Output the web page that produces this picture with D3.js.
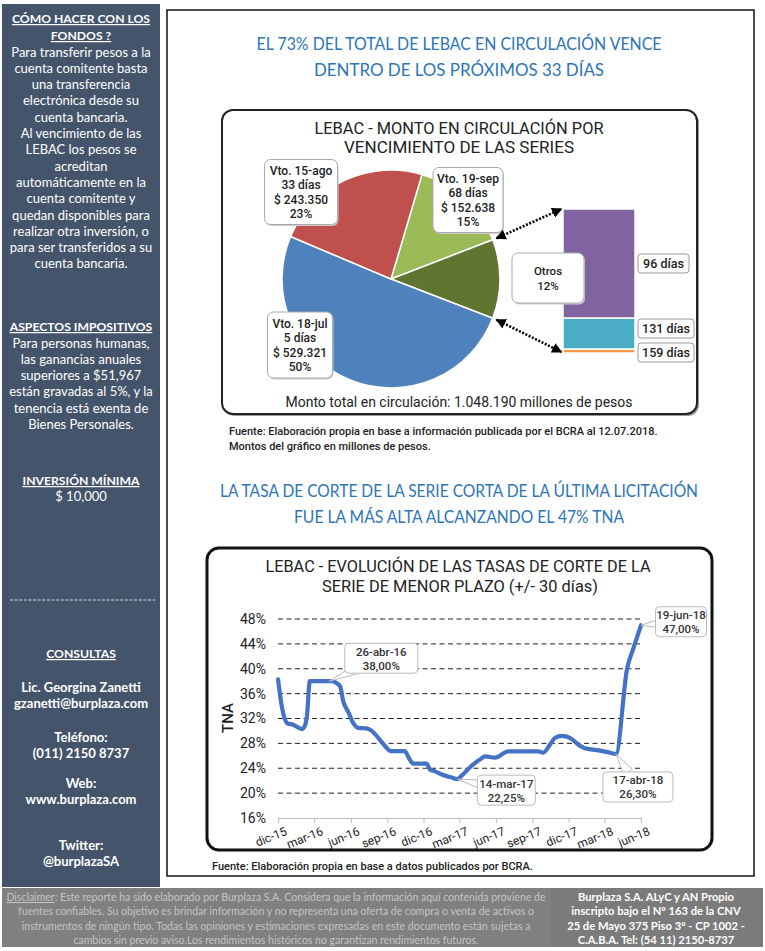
<!DOCTYPE html>
<html>
<head>
<meta charset="utf-8">
<script src="https://cdnjs.cloudflare.com/ajax/libs/d3/7.8.5/d3.min.js"></script>
<style>
  body { margin: 0; background: #fff; }
  svg { display: block; }
  .side { font-family: Lato, "Open Sans", sans-serif; fill: #fff; font-size: 13px; }
  .chart { font-family: Roboto, sans-serif; fill: #222; }
</style>
</head>
<body>
<div id="page"></div>
<script>

// pie: LEBAC en circulación por vencimiento (millones de pesos)
var pieNames = ["Vto. 19-sep", "Otros", "Vto. 18-jul", "Vto. 15-ago"];
var pieDays = ["68 días", "", "5 días", "33 días"];
var pieAmounts = ["$ 152.638", "", "$ 529.321", "$ 243.350"];
var piePct = ["15%", "12%", "50%", "23%"];
var pieValues = [152.638, 122.881, 529.321, 243.350];
var pieColors = ["#9bbb59", "#5f7530", "#4f81bd", "#c0504d"];

// desglose de "Otros"
var otrosDays = ["159 días", "131 días", "96 días"];
var otrosValues = [3.4, 26.5, 93.0];
var otrosColors = ["#f79646", "#4bacc6", "#8064a2"];

// tasas de corte serie corta
var rateDates = ["2015-12-19", "2015-12-29", "2016-01-12", "2016-01-26", "2016-02-09", "2016-02-18",
  "2016-02-25", "2016-03-01", "2016-03-08", "2016-03-22", "2016-04-05", "2016-04-26", "2016-05-03",
  "2016-05-14", "2016-05-23", "2016-05-31", "2016-06-13", "2016-06-25", "2016-07-08", "2016-07-29",
  "2016-08-11", "2016-08-27", "2016-09-17", "2016-09-26", "2016-11-02", "2016-11-11", "2016-11-23",
  "2016-12-27", "2017-01-04", "2017-01-17", "2017-02-03", "2017-02-28", "2017-03-14", "2017-03-25",
  "2017-04-19", "2017-05-10", "2017-05-23", "2017-06-17", "2017-07-20", "2017-10-04", "2017-10-16",
  "2017-11-02", "2017-11-15", "2017-12-02", "2017-12-22", "2018-01-17", "2018-01-29", "2018-03-12",
  "2018-04-02", "2018-04-17", "2018-05-15", "2018-06-01", "2018-06-19"];
var rateValues = [38.3, 33.8, 31.2, 31.0, 30.5, 30.3,
  30.9, 32.5, 38.0, 38.0, 38.0, 38.0, 38.0,
  37.7, 37.2, 34.8, 33.0, 31.3, 30.5, 30.4,
  30.0, 28.9, 27.3, 26.75, 26.75, 25.8, 24.75,
  24.75, 23.8, 23.5, 23.0, 22.5, 22.25, 22.8,
  24.4, 25.4, 25.9, 25.7, 26.7, 26.7, 26.5,
  27.8, 28.9, 29.2, 28.9, 27.6, 27.2, 26.8,
  26.5, 26.3, 40.0, 43.5, 47.0];
var yTicks = [16, 20, 24, 28, 32, 36, 40, 44, 48];
var xTickLabels = ["dic-15", "mar-16", "jun-16", "sep-16", "dic-16", "mar-17", "jun-17", "sep-17", "dic-17", "mar-18", "jun-18"];

var calloutDates = ["2016-04-26", "2017-03-14", "2018-04-17", "2018-06-19"];
var calloutTexts = [["26-abr-16", "38,00%"], ["14-mar-17", "22,25%"], ["17-abr-18", "26,30%"], ["19-jun-18", "47,00%"]];

// textos
var sideBlock1 = ["Para transferir pesos a la", "cuenta comitente basta", "una transferencia", "electrónica desde su",
  "cuenta bancaria.", "Al vencimiento de las", "LEBAC los pesos se", "acreditan", "automáticamente en la",
  "cuenta comitente y", "quedan disponibles para", "realizar otra inversión, o", "para ser transferidos a su", "cuenta bancaria."];
var sideBlock2 = ["Para personas humanas,", "las ganancias anuales", "superiores a $51,967", "están gravadas al 5%, y la",
  "tenencia está exenta de", "Bienes Personales."];
var disclaimer = ["Este reporte ha sido elaborado por Burplaza S.A. Considera que la información aquí contenida proviene de",
  "fuentes confiables. Su objetivo es brindar información y no representa una oferta de compra o venta de activos o",
  "instrumentos de ningún tipo. Todas las opiniones y estimaciones expresadas en este documento están sujetas a",
  "cambios sin previo aviso.Los rendimientos históricos no garantizan rendimientos futuros."];
var company = ["Burplaza S.A. ALyC y AN Propio", "inscripto bajo el Nº 163 de la CNV", "25 de Mayo 375 Piso 3º - CP 1002 -", "C.A.B.A. Tel: (54 11) 2150-8737"];

var W = 765, H = 951;
var svg = d3.select("#page").append("svg").attr("width", W).attr("height", H);

var defs = svg.append("defs");
defs.append("marker").attr("id", "arr").attr("viewBox", "0 0 10 10")
  .attr("refX", 9).attr("refY", 5).attr("markerWidth", 4).attr("markerHeight", 4)
  .attr("orient", "auto-start-reverse")
  .append("path").attr("d", "M0,0L10,5L0,10Z").attr("fill", "#000");

function lines(g, arr, x, y0, dy, anchor) {
  var t = g.append("text").attr("text-anchor", anchor || "middle");
  arr.forEach(function(s, i) {
    t.append("tspan").attr("x", x).attr("y", y0 + i * dy).text(s);
  });
  return t;
}

// ---------- sidebar ----------
var side = svg.append("g");
side.append("rect").attr("x", 2).attr("y", 4).attr("width", 158).attr("height", 883).attr("fill", "#44546a");
var sx = 81;
function heading(txt, y) {
  var t = side.append("text").attr("class", "side").attr("x", sx).attr("y", y)
    .attr("text-anchor", "middle").attr("font-weight", "bold").style("font-size", "12.2px")
    .attr("text-decoration", "underline").text(txt);
  return t;
}
heading("CÓMO HACER CON LOS", 23);
heading("FONDOS ?", 40);
lines(side, sideBlock1, sx, 56.5, 16.3).attr("class", "side");
heading("ASPECTOS IMPOSITIVOS", 331);
lines(side, sideBlock2, sx, 347.5, 16.3).attr("class", "side");
heading("INVERSIÓN MÍNIMA", 485);
side.append("text").attr("class", "side").attr("x", sx).attr("y", 501).attr("text-anchor", "middle").text("$ 10,000");
side.append("line").attr("x1", 10).attr("x2", 155).attr("y1", 600).attr("y2", 600)
  .attr("stroke", "#fff").attr("stroke-width", 0.8).attr("stroke-dasharray", "3,1.6");
heading("CONSULTAS", 658);
lines(side, ["Lic. Georgina Zanetti", "gzanetti@burplaza.com"], sx, 692, 16.3).attr("class", "side").attr("font-weight", "bold");
lines(side, ["Teléfono:", "(011) 2150 8737"], sx, 742, 16.3).attr("class", "side").attr("font-weight", "bold");
lines(side, ["Web:", "www.burplaza.com"], sx, 788, 16.3).attr("class", "side").attr("font-weight", "bold");
lines(side, ["Twitter:", "@burplazaSA"], sx, 850, 16.3).attr("class", "side").attr("font-weight", "bold");

// ---------- main panel ----------
svg.append("rect").attr("x", 167).attr("y", 10).attr("width", 587).attr("height", 866)
  .attr("fill", "#fff").attr("stroke", "#000").attr("stroke-width", 1.4);

function blueHead(arr, y0, widths) {
  arr.forEach(function(s, i) {
    svg.append("text").attr("x", 459).attr("y", y0 + i * 25.5).attr("text-anchor", "middle")
      .attr("font-family", "Lato, sans-serif").attr("font-size", 16.5).attr("fill", "#2e75b6")
      .attr("textLength", widths[i]).attr("lengthAdjust", "spacingAndGlyphs").text(s);
  });
}
blueHead(["EL 73% DEL TOTAL DE LEBAC EN CIRCULACIÓN VENCE", "DENTRO DE LOS PRÓXIMOS 33 DÍAS"], 50, [405, 290]);
blueHead(["LA TASA DE CORTE DE LA SERIE CORTA DE LA ÚLTIMA LICITACIÓN", "FUE LA MÁS ALTA ALCANZANDO EL 47% TNA"], 497, [478, 330]);

// ---------- pie chart ----------
var pg = svg.append("g").attr("class", "chart");
pg.append("rect").attr("x", 224).attr("y", 112).attr("width", 475).attr("height", 304).attr("rx", 11)
  .attr("fill", "#999");
pg.append("rect").attr("x", 222).attr("y", 110).attr("width", 475).attr("height", 304).attr("rx", 11)
  .attr("fill", "#fff").attr("stroke", "#222").attr("stroke-width", 2);
pg.append("text").attr("x", 459).attr("y", 134).attr("text-anchor", "middle").attr("font-size", 16.5)
  .attr("textLength", 289).attr("lengthAdjust", "spacingAndGlyphs").text("LEBAC - MONTO EN CIRCULACIÓN POR");
pg.append("text").attr("x", 459).attr("y", 152.5).attr("text-anchor", "middle").attr("font-size", 16.5)
  .attr("textLength", 230).attr("lengthAdjust", "spacingAndGlyphs").text("VENCIMIENTO DE LAS SERIES");

var cx = 391, cy = 279, R = 109;
var startA = 16.5 * Math.PI / 180;
var pie = d3.pie().sort(null).startAngle(startA).endAngle(startA + 2 * Math.PI);
var arcs = pie(pieValues);
var arc = d3.arc().innerRadius(0).outerRadius(R);
var pieG = pg.append("g").attr("transform", "translate(" + cx + "," + cy + ")");
pieG.selectAll("path").data(arcs).enter().append("path")
  .attr("d", arc).attr("fill", function(d, i) { return pieColors[i]; })
  .attr("stroke", "#fff").attr("stroke-width", 1.5);

function labelBox(g, x, y, w, h, txt, fs, dy) {
  g.append("rect").attr("x", x - w / 2 + 1).attr("y", y - h / 2 + 1.5).attr("width", w).attr("height", h)
    .attr("rx", 6).attr("fill", "#ccc");
  g.append("rect").attr("x", x - w / 2).attr("y", y - h / 2).attr("width", w).attr("height", h)
    .attr("rx", 6).attr("fill", "#fff").attr("stroke", "#aaa").attr("stroke-width", 1);
  var n = txt.length;
  lines(g, txt, x, y - (n - 1) * dy / 2 + fs * 0.36, dy)
    .attr("font-size", fs).attr("font-weight", 500).attr("fill", "#222");
}

// label offsets from pie centre (layout only)
var pieLabelPos = [[77, -79, 70, 65], null, [-91, 66, 65, 66], [-90, -87, 73, 65]];
arcs.forEach(function(d, i) {
  if (!pieLabelPos[i]) return;
  var p = pieLabelPos[i];
  labelBox(pg, cx + p[0], cy + p[1], p[2], p[3], [pieNames[i], pieDays[i], pieAmounts[i], piePct[i]], 12, 14.5);
});

// stacked bar for "Otros"
var otrosTotal = d3.sum(otrosValues);
var yb = d3.scaleLinear().domain([0, otrosTotal]).range([353, 209]);
var bx0 = 563, bw = 72;
var cum = 0;
var segs = otrosValues.map(function(v) { var s = { y0: cum, y1: cum + v }; cum += v; return s; });
pg.selectAll("rect.seg").data(segs).enter().append("rect").attr("class", "seg")
  .attr("x", bx0).attr("width", bw)
  .attr("y", function(d) { return yb(d.y1); })
  .attr("height", function(d) { return yb(d.y0) - yb(d.y1); })
  .attr("fill", function(d, i) { return otrosColors[i]; })
  .attr("stroke", "#fff").attr("stroke-width", 1.5);

var barLabelY = [352.5, 328.5, 263.5];
var barLabelW = [56, 56, 51];
segs.forEach(function(d, i) {
  var g = pg.append("g");
  g.append("rect").attr("x", 638).attr("y", barLabelY[i] - 9.5).attr("width", barLabelW[i]).attr("height", 19)
    .attr("rx", 3).attr("fill", "#fff").attr("stroke", "#999");
  g.append("text").attr("x", 638 + barLabelW[i] / 2).attr("y", barLabelY[i] + 4.5).attr("text-anchor", "middle")
    .attr("font-size", 12.5).attr("font-weight", 500).text(otrosDays[i]);
});

// Otros callout (overlaps the bar, as in the original)
labelBox(pg, 548, 278, 72, 50, [pieNames[1], piePct[1]], 11.5, 15);

// dotted arrows from "Otros" slice to bar
var o = arcs[1];
[[o.startAngle, yb(otrosTotal)], [o.endAngle, yb(0) - 1]].forEach(function(a) {
  var px = cx + (R + 4) * Math.sin(a[0]), py = cy - (R + 4) * Math.cos(a[0]);
  pg.append("line").attr("x1", px).attr("y1", py).attr("x2", bx0 - 1.5).attr("y2", a[1])
    .attr("stroke", "#000").attr("stroke-width", 2.6).attr("stroke-dasharray", "2,1.6")
    .attr("marker-start", "url(#arr)").attr("marker-end", "url(#arr)");
});

pg.append("text").attr("x", 459).attr("y", 407).attr("text-anchor", "middle").attr("font-size", 14.5)
  .attr("textLength", 347).attr("lengthAdjust", "spacingAndGlyphs")
  .text("Monto total en circulación: 1.048.190 millones de pesos");

lines(pg, ["Fuente: Elaboración propia en base a información publicada por el BCRA al 12.07.2018.",
  "Montos del gráfico en millones de pesos."], 229, 435, 14.5, "start")
  .attr("font-size", 11).attr("font-weight", 500).attr("fill", "#222");

// ---------- line chart ----------
var lg = svg.append("g").attr("class", "chart");
lg.append("rect").attr("x", 207).attr("y", 548).attr("width", 505).attr("height", 302).attr("rx", 12)
  .attr("fill", "#fff").attr("stroke", "#111").attr("stroke-width", 3);
lg.append("text").attr("x", 458).attr("y", 572).attr("text-anchor", "middle").attr("font-size", 17)
  .attr("textLength", 385).attr("lengthAdjust", "spacingAndGlyphs").text("LEBAC - EVOLUCIÓN DE LAS TASAS DE CORTE DE LA");
lg.append("text").attr("x", 460).attr("y", 592).attr("text-anchor", "middle").attr("font-size", 17)
  .attr("textLength", 276).attr("lengthAdjust", "spacingAndGlyphs").text("SERIE DE MENOR PLAZO (+/- 30 días)");

var parse = d3.timeParse("%Y-%m-%d");
var rates = rateDates.map(function(d, i) { return { date: parse(d), v: rateValues[i] }; });
var t0 = rates[0].date, t1 = rates[rates.length - 1].date;
var x = d3.scaleTime().domain([t0, t1]).range([278, 641]);
var y = d3.scaleLinear().domain([16, 48]).range([818, 619]);

lg.selectAll("line.grid").data(yTicks.slice(1)).enter().append("line").attr("class", "grid")
  .attr("x1", 278).attr("x2", 641).attr("y1", function(d) { return y(d); }).attr("y2", function(d) { return y(d); })
  .attr("stroke", "#222").attr("stroke-width", 1).attr("stroke-dasharray", "5,3.5");

var yAxis = d3.axisLeft(y).tickValues(yTicks).tickSize(0).tickPadding(10)
  .tickFormat(function(d) { return d + "%"; });
lg.append("g").attr("transform", "translate(276,0)").call(yAxis)
  .call(function(g) { g.select(".domain").remove(); })
  .selectAll("text").attr("font-family", "Roboto, sans-serif").attr("font-size", 14).attr("fill", "#222");

var xTicks = xTickLabels.map(function(s, i) { return d3.timeMonth.offset(t0, 3 * i); });
var xAxis = d3.axisBottom(x).tickValues(xTicks).tickSize(5).tickFormat(function(d, i) { return xTickLabels[i]; });
var xg = lg.append("g").attr("transform", "translate(0,818)").call(xAxis);
xg.select(".domain").attr("stroke", "#bbb");
xg.selectAll(".tick line").attr("stroke", "#bbb");
xg.selectAll("text").attr("font-family", "Roboto, sans-serif").attr("font-size", 12).attr("fill", "#222")
  .attr("text-anchor", "end").attr("dx", "0.2em").attr("dy", "0.9em")
  .attr("transform", "rotate(-22)");

lg.append("text").attr("transform", "translate(233,718) rotate(-90)").attr("text-anchor", "middle")
  .attr("font-size", 15).attr("font-weight", 500).text("TNA");

var line = d3.line().curve(d3.curveMonotoneX)
  .x(function(d) { return x(d.date); }).y(function(d) { return y(d.v); });
lg.append("path").datum(rates).attr("d", line).attr("fill", "none")
  .attr("stroke", "#4472c4").attr("stroke-width", 4.2).attr("stroke-linejoin", "round").attr("stroke-linecap", "round");

// callouts (box offsets are layout)
var calloutPos = [[52, -23, 73], [49, 11, 58], [22, 33, 70], [40, -3.5, 51]];
calloutDates.forEach(function(ds, i) {
  var dt = parse(ds);
  var v = rateValues[rateDates.indexOf(ds)];
  var px = x(dt), py = y(v);
  var p = calloutPos[i];
  var bxc = px + p[0], byc = py + p[1], w = p[2], h = 30;
  var g = lg.append("g");
  var dx = bxc - px, dy = byc - py, L = Math.sqrt(dx * dx + dy * dy);
  var nx = -dy / L * 5, ny = dx / L * 5;
  var bxp = bxc - dx * 0.45, byp = byc - dy * 0.45;
  g.append("path").attr("d", "M" + px + "," + py + "L" + (bxp + nx) + "," + (byp + ny) + "L" + (bxp - nx) + "," + (byp - ny) + "Z")
    .attr("fill", "#fff").attr("stroke", "#bbb").attr("stroke-width", 1);
  g.append("rect").attr("x", bxc - w / 2).attr("y", byc - h / 2).attr("width", w).attr("height", h).attr("rx", 4)
    .attr("fill", "#fff").attr("stroke", "#bbb");
  lines(g, calloutTexts[i], bxc, byc - 2.5, 14).attr("font-size", 11.5).attr("font-weight", 500).attr("fill", "#333");
});

lg.append("text").attr("x", 212).attr("y", 870).attr("font-size", 11).attr("font-weight", 500)
  .text("Fuente: Elaboración propia en base a datos publicados por BCRA.");

// ---------- footer ----------
var fg = svg.append("g");
fg.append("rect").attr("x", 2).attr("y", 888).attr("width", 761).attr("height", 59).attr("fill", "#808080");
fg.append("rect").attr("x", 551).attr("y", 888).attr("width", 212).attr("height", 59).attr("fill", "#7b7b7b");
var dt = fg.append("text").attr("font-family", "Lato, sans-serif").attr("font-size", 10.5).attr("fill", "#c4c4c4")
  .attr("text-anchor", "middle");
disclaimer.forEach(function(s, i) {
  var ts = dt.append("tspan").attr("x", 276).attr("y", 901 + i * 14.3);
  if (i === 0) {
    ts.append("tspan").attr("text-decoration", "underline").text("Disclaimer");
    ts.append("tspan").text(": " + s);
  } else {
    ts.text(s);
  }
});
lines(fg, company, 656, 901, 14.3).attr("font-family", "Lato, sans-serif").attr("font-size", 11.2)
  .attr("font-weight", "bold").attr("fill", "#fff");

</script>
</body>
</html>
